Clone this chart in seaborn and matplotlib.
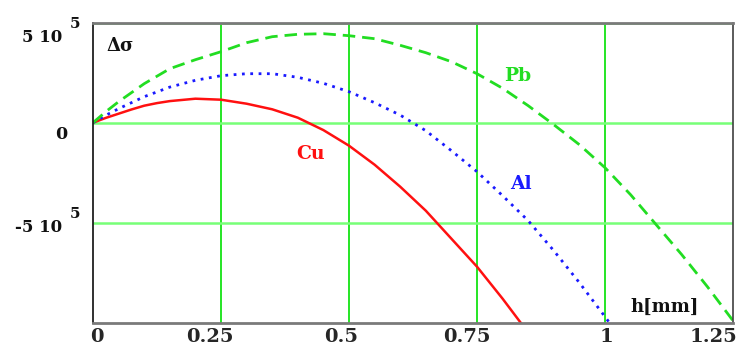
import numpy as np
import pandas as pd
import matplotlib
matplotlib.use("Agg")
import matplotlib.pyplot as plt
import matplotlib.transforms as mtransforms
import seaborn as sns

# ---- data ----
h_cu = [0, 0.025, 0.05, 0.075, 0.1, 0.125, 0.15, 0.2, 0.25, 0.3, 0.35, 0.4, 0.45,
        0.5, 0.55, 0.6, 0.65, 0.7, 0.75, 0.8, 0.85]
v_cu = [0, 0.24e5, 0.45e5, 0.66e5, 0.85e5, 0.98e5, 1.08e5, 1.2e5, 1.15e5, 0.95e5,
        0.67e5, 0.25e5, -0.37e5, -1.15e5, -2.1e5, -3.2e5, -4.4e5, -5.8e5, -7.2e5,
        -8.8e5, -10.5e5]

h_al = [0, 0.025, 0.05, 0.1, 0.15, 0.2, 0.25, 0.3, 0.35, 0.4, 0.45, 0.5, 0.55, 0.6,
        0.65, 0.7, 0.75, 0.8, 0.85, 0.9, 0.95, 1.0, 1.02]
v_al = [0, 0.37e5, 0.7e5, 1.3e5, 1.78e5, 2.12e5, 2.35e5, 2.45e5, 2.45e5, 2.27e5,
        1.97e5, 1.55e5, 1.0e5, 0.38e5, -0.4e5, -1.4e5, -2.45e5, -3.65e5, -4.9e5,
        -6.4e5, -8.0e5, -9.7e5, -10.4e5]

h_pb = [0, 0.025, 0.05, 0.1, 0.15, 0.2, 0.25, 0.3, 0.35, 0.4, 0.45, 0.5, 0.55, 0.6,
        0.65, 0.7, 0.75, 0.8, 0.85, 0.9, 0.95, 1.0, 1.05, 1.1, 1.15, 1.2, 1.25]
v_pb = [0, 0.55e5, 1.05e5, 1.95e5, 2.7e5, 3.15e5, 3.55e5, 4.0e5, 4.3e5, 4.42e5,
        4.45e5, 4.35e5, 4.2e5, 3.87e5, 3.5e5, 3.05e5, 2.45e5, 1.72e5, 0.85e5, -0.1e5,
        -1.1e5, -2.25e5, -3.6e5, -5.1e5, -6.6e5, -8.2e5, -9.9e5]

x_ticks = [0, 0.25, 0.5, 0.75, 1, 1.25]
x_tick_labels = ["0", "0.25", "0.5", "0.75", "1", "1.25"]
y_ticks = [-5e5, 0, 5e5]
y_tick_main = ["-5 10", "0", "5 10"]
y_tick_sup = ["5", "", "5"]

# ---- style ----
sns.set_style("white")
plt.rcParams["font.family"] = ["DejaVu Serif", "DejaVu Sans"]
plt.rcParams["font.weight"] = "bold"

fig = plt.figure(figsize=(7.36, 3.5), dpi=100)
ax = fig.add_axes([93 / 736, (350 - 322.7) / 350, (733 - 93) / 736, (322.7 - 22.7) / 350])

df_cu = pd.DataFrame({"h": h_cu, "v": v_cu})
df_al = pd.DataFrame({"h": h_al, "v": v_al})
df_pb = pd.DataFrame({"h": h_pb, "v": v_pb})

sns.lineplot(data=df_cu, x="h", y="v", ax=ax, color="#ff1010", linewidth=1.8,
             sort=False, estimator=None)
sns.lineplot(data=df_al, x="h", y="v", ax=ax, color="#1a1aff", linewidth=2.0,
             linestyle=(0, (1, 2)), sort=False, estimator=None)
sns.lineplot(data=df_pb, x="h", y="v", ax=ax, color="#22dd22", linewidth=2.0,
             linestyle=(0, (4.5, 2.5)), sort=False, estimator=None)

ax.set_xlim(0, 1.25)
ax.set_ylim(-1e6, 5e5)
ax.set_xlabel("")
ax.set_ylabel("")

# grid
ax.set_xticks(x_ticks)
ax.set_yticks(y_ticks)
ax.grid(False)
for xv in x_ticks[1:-1]:
    ax.axvline(xv, color="#00e000", linewidth=1.2, zorder=0.5)
for yv in y_ticks:
    ax.axhline(yv, color="#77ff77", linewidth=1.8, zorder=0.5)

# spines
ax.spines["left"].set_color("#202020")
ax.spines["left"].set_linewidth(1.3)
ax.spines["bottom"].set_color("#7a7a7a")
ax.spines["bottom"].set_linewidth(2.0)
ax.spines["top"].set_color("#7a7a7a")
ax.spines["top"].set_linewidth(2.0)
ax.spines["right"].set_color("#404040")
ax.spines["right"].set_linewidth(1.2)
for s in ax.spines.values():
    s.set_visible(True)
    s.set_zorder(3)

# x tick labels
ax.set_xticklabels(x_tick_labels, fontsize=14, fontweight="bold")
ax.tick_params(axis="both", length=0)
ax.tick_params(axis="x", pad=4)
x_dx = [4, -11, -8, -10, 1, -20]
for lab, dx in zip(ax.get_xticklabels(), x_dx):
    lab.set_transform(lab.get_transform() +
                      mtransforms.ScaledTranslation(dx / 100, 0, fig.dpi_scale_trans))

# y tick labels (Mathcad style, custom positioned)
ax.set_yticklabels(["", "", ""])
ytr = mtransforms.blended_transform_factory(ax.transAxes, ax.transData)
y_dy = [-5, -12, -15]
for yv, main, sup, dy in zip(y_ticks, y_tick_main, y_tick_sup, y_dy):
    if sup:
        tr = ytr + mtransforms.ScaledTranslation(-31 / 100, dy / 100, fig.dpi_scale_trans)
        ax.text(0, yv, main, transform=tr, ha="right", va="center",
                fontsize=12, fontweight="bold", color="#111111")
        tr2 = ytr + mtransforms.ScaledTranslation(-23 / 100, (dy + 14) / 100, fig.dpi_scale_trans)
        ax.text(0, yv, sup, transform=tr2, ha="left", va="center",
                fontsize=11, fontweight="bold", color="#111111")
    else:
        tr = ytr + mtransforms.ScaledTranslation(-26 / 100, dy / 100, fig.dpi_scale_trans)
        ax.text(0, yv, main, transform=tr, ha="right", va="center",
                fontsize=12.5, fontweight="bold", color="#111111")

# annotations
ax.text(0.053, 3.84e5, "Δσ", ha="center", va="center", fontsize=13,
        fontweight="bold", color="#111111")
ax.text(0.83, 2.33e5, "Pb", ha="center", va="center", fontsize=13.5,
        fontweight="bold", color="#22dd22")
ax.text(0.836, -3.07e5, "Al", ha="center", va="center", fontsize=13.5,
        fontweight="bold", color="#1a1aff")
ax.text(0.425, -1.57e5, "Cu", ha="center", va="center", fontsize=13.5,
        fontweight="bold", color="#ff1010")
ax.text(1.117, -9.2e5, "h[mm]", ha="center", va="center", fontsize=13,
        fontweight="bold", color="#111111")

fig.savefig("out.png", dpi=100, facecolor="white")
